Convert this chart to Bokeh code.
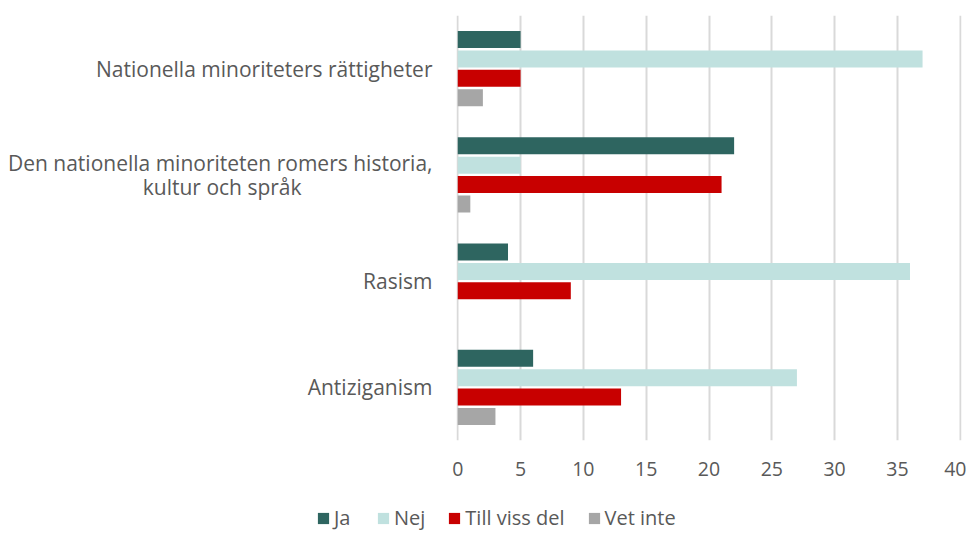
from bokeh.plotting import figure
from bokeh.layouts import column
from bokeh.models import FactorRange, Range1d, Legend, LegendItem, ColumnDataSource, FixedTicker
from bokeh.transform import dodge
from bokeh.embed import file_html
from bokeh.resources import INLINE

NB = "\u00a0"
categories = [
    "Nationella minoriteters rättigheter",
    "Den nationella minoriteten romers historia,\nkultur och språk" + NB * 24,
    "Rasism",
    "Antiziganism",
]
series = ["Ja", "Nej", "Till viss del", "Vet inte"]
ja = [5, 22, 4, 6]
nej = [37, 5, 36, 27]
till_viss_del = [5, 21, 9, 13]
vet_inte = [2, 1, 0, 3]
x_ticks = [0, 5, 10, 15, 20, 25, 30, 35, 40]
colors = ["#2E6560", "#C0E1DF", "#C80000", "#A6A6A6"]

FONT = "Open Sans"
TXT = "#595959"

source = ColumnDataSource(data=dict(
    cat=categories, ja=ja, nej=nej, tvd=till_viss_del, vi=vet_inte,
))

p = figure(
    width=966, height=490,
    y_range=FactorRange(factors=categories[::-1]),
    x_range=Range1d(-0.1, 40.1),
    output_backend="svg", toolbar_location=None,
    min_border_left=456, min_border_right=5, min_border_top=15, min_border_bottom=50,
)
p.outline_line_color = None
p.background_fill_color = "white"
p.border_fill_color = "white"

pitch = 0.1835
bar_h = 0.16
cols = ["ja", "nej", "tvd", "vi"]
offsets = [1.5 * pitch, 0.5 * pitch, -0.5 * pitch, -1.5 * pitch]
for col, off, c in zip(cols, offsets, colors):
    p.hbar(y=dodge("cat", off, range=p.y_range), right=col, left=0, height=bar_h,
           source=source, fill_color=c, line_color=None)

p.xaxis.ticker = FixedTicker(ticks=x_ticks)
p.xaxis.axis_line_color = None
p.xaxis.major_tick_line_color = None
p.xaxis.minor_tick_line_color = None
p.xaxis.major_label_text_font = FONT
p.xaxis.major_label_text_font_size = "19.5px"
p.xaxis.major_label_text_color = TXT
p.xaxis.major_label_standoff = 15

p.yaxis.axis_line_color = None
p.yaxis.major_tick_line_color = None
p.yaxis.minor_tick_line_color = None
p.yaxis.major_label_text_font = FONT
p.yaxis.major_label_text_font_size = "21px"
p.yaxis.major_label_text_color = TXT
p.yaxis.major_label_text_line_height = 0.84
p.yaxis.major_label_standoff = 18

p.xgrid.grid_line_color = "#D9D9D9"
p.xgrid.grid_line_width = 2
p.ygrid.grid_line_color = None

# legend strip below the chart
lg = figure(width=966, height=43, x_range=Range1d(0, 1), y_range=Range1d(0, 1),
            output_backend="svg", toolbar_location=None,
            min_border_left=0, min_border_right=0, min_border_top=0, min_border_bottom=0)
aligned = True
if hasattr(lg, "frame_align"):
    lg.frame_align = False
    aligned = False
lg.axis.visible = False
lg.grid.visible = False
lg.outline_line_color = None
lg.border_fill_color = "white"
lg.background_fill_color = "white"
# legend key glyphs (kept outside the visible ranges)
rs = []
for c in colors:
    rs.append(lg.hbar(y=[-10], right=[-5], left=-6, height=0.1, fill_color=c, line_color=None))
items = [LegendItem(label=s, renderers=[r]) for s, r in zip(series, rs)]
legend = Legend(items=items, orientation="horizontal",
                location=(316 - (456 if aligned else 0), 2),
                padding=0, margin=0, spacing=22, label_standoff=4,
                glyph_width=14, glyph_height=14, label_height=14,
                label_text_font=FONT, label_text_font_size="20px", label_text_color=TXT,
                border_line_color=None, background_fill_alpha=0)
lg.add_layout(legend, "center")

layout = column(p, lg, spacing=0)
open("out.html", "w").write(file_html(layout, INLINE))
